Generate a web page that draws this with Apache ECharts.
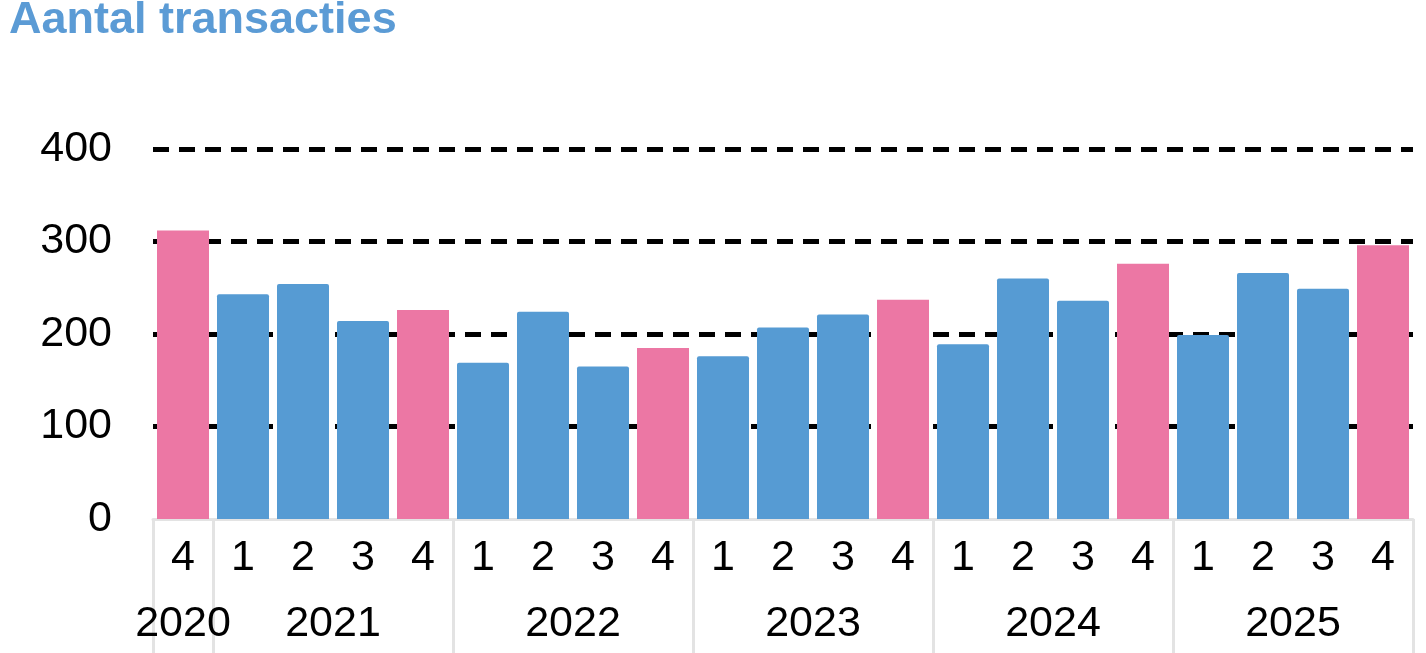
<!DOCTYPE html>
<html>
<head>
<meta charset="utf-8">
<script src="https://cdn.jsdelivr.net/npm/echarts@6/dist/echarts.min.js"></script>
<style>
html,body{margin:0;padding:0;background:#fff;}
#c{width:1426px;height:653px;}
</style>
</head>
<body>
<div id="c"></div>
<script>
// ---- data ----
var quarters = ['4','1','2','3','4','1','2','3','4','1','2','3','4','1','2','3','4','1','2','3','4'];
var values = [312, 243, 254, 214, 226, 169, 224, 165, 185, 176, 207, 221, 237, 189, 260, 236, 276, 199, 266, 249, 296];
var years = ['2020','2021','2022','2023','2024','2025'];
var yearCounts = [1, 4, 4, 4, 4, 4];
var yTicks = [0, 100, 200, 300, 400];

// ---- derived ----
var BLUE = '#569BD3', PINK = '#EC77A4';
var yearPos = {};
var boundaries = {};
var start = 0;
for (var i = 0; i < years.length; i++) {
  boundaries[start] = true;
  yearPos[(start + yearCounts[i] / 2).toFixed(1)] = years[i];
  start += yearCounts[i];
}
var barData = values.map(function (v, i) {
  var q4 = quarters[i] === '4';
  return { value: v, itemStyle: { color: q4 ? PINK : BLUE, borderRadius: q4 ? 0 : [2, 2, 0, 0] } };
});

var FONT = 'Liberation Sans, Arial, sans-serif';
var chart = echarts.init(document.getElementById('c'), null, { renderer: 'canvas' });
chart.setOption({
  animation: false,
  backgroundColor: '#fff',
  title: {
    text: 'Aantal transacties',
    left: 4, top: -7,
    textStyle: { color: '#5B9BD5', fontSize: 45, fontWeight: 'bold', fontFamily: FONT, lineHeight: 45 }
  },
  grid: { left: 153, right: 13, top: 149, bottom: 134, containLabel: false },
  xAxis: [{
    type: 'category',
    data: quarters,
    boundaryGap: true,
    axisLine: { show: true, lineStyle: { color: '#e3e3e3', width: 3 } },
    axisTick: {
      show: true, length: 140, inside: false,
      interval: function (idx) { return !!boundaries[idx]; },
      lineStyle: { color: '#e3e3e3', width: 3 }
    },
    axisLabel: { interval: 0, margin: 18, color: '#000', fontSize: 43, lineHeight: 43, fontFamily: FONT },
    splitLine: { show: false }
  }, {
    type: 'value',
    position: 'bottom',
    min: 0, max: quarters.length, interval: 0.5,
    axisLine: { show: false }, axisTick: { show: false }, splitLine: { show: false },
    axisLabel: {
      margin: 84, color: '#000', fontSize: 43, lineHeight: 43, fontFamily: FONT,
      formatter: function (v) { return yearPos[Number(v).toFixed(1)] || ''; }
    }
  }],
  yAxis: {
    type: 'value',
    min: yTicks[0], max: yTicks[yTicks.length - 1], interval: yTicks[1] - yTicks[0],
    axisLine: { show: false }, axisTick: { show: false },
    axisLabel: { margin: 41, color: '#000', fontSize: 43, fontFamily: FONT },
    splitLine: { show: true, showMinLine: false, lineStyle: { color: '#000', width: 5, type: [16, 10] } }
  },
  series: [{
    type: 'bar',
    xAxisIndex: 0,
    data: barData,
    barWidth: 52
  }]
});
</script>
</body>
</html>
